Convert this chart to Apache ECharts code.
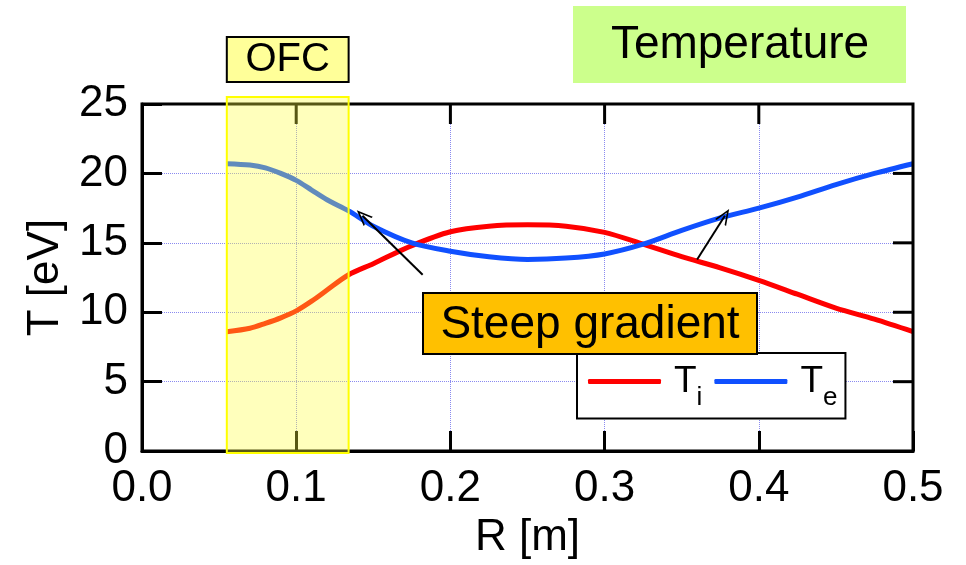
<!DOCTYPE html>
<html>
<head>
<meta charset="utf-8">
<script src="https://cdn.jsdelivr.net/npm/echarts@6/dist/echarts.min.js"></script>
<style>
  html, body { margin: 0; padding: 0; background: #fff; }
  #view { width: 966px; height: 565px; }
</style>
</head>
<body>
<div id="view"></div>
<script>
// radius [m]
const rList = [0.055, 0.07, 0.08, 0.09, 0.1, 0.11, 0.12, 0.134, 0.15, 0.175, 0.2, 0.225,
  0.25, 0.275, 0.3, 0.325, 0.35, 0.375, 0.4, 0.425, 0.45, 0.475, 0.5];
// ion temperature [eV]
const tiList = [8.6, 8.85, 9.2, 9.6, 10.1, 10.8, 11.6, 12.7, 13.5, 14.8, 15.8, 16.2,
  16.3, 16.2, 15.75, 14.9, 14.0, 13.2, 12.3, 11.3, 10.3, 9.5, 8.6];
// electron temperature [eV]
const teList = [20.7, 20.6, 20.4, 20.0, 19.5, 18.8, 18.1, 17.3, 16.2, 15.0, 14.4, 14.0,
  13.8, 13.9, 14.2, 14.9, 15.9, 16.8, 17.5, 18.3, 19.2, 20.0, 20.7];
const xTicks = [0, 0.1, 0.2, 0.3, 0.4, 0.5];
const yTicks = [0, 5, 10, 15, 20, 25];
const ofcRange = [0.055, 0.134];
// arrows: [from, to] in data coords
const arrowList = [
  [[0.182, 12.7], [0.143, 16.95]],
  [[0.360, 13.8], [0.378, 16.95]],
];

const font = "'Liberation Sans', Arial, sans-serif";
const chevron = "path://M0,12 L6,0 L12,12 L10.4,12 L6,3.2 L1.6,12 Z";

let myChart = echarts.init(document.getElementById("view"));

let tiS = { name: "Ti", type: "line", smooth: 0.3, symbol: "none", data: [],
  lineStyle: { color: "#ff0000", width: 5 }, itemStyle: { color: "#ff0000" }, z: 3 };
let teS = { name: "Te", type: "line", smooth: 0.3, symbol: "none", data: [],
  lineStyle: { color: "#1050ff", width: 5 }, itemStyle: { color: "#1050ff" }, z: 4,
  markLine: {
    silent: true,
    animation: false,
    symbol: ["none", chevron],
    symbolSize: [13, 16],
    label: { show: false },
    lineStyle: { color: "#000", width: 2, type: "solid" },
    data: arrowList.map((a) => [{ coord: a[0] }, { coord: a[1] }]),
  },
};
rList.forEach((r, i) => {
  tiS.data.push([r, tiList[i]]);
  teS.data.push([r, teList[i]]);
});

const axisLine = { show: true, onZero: false, lineStyle: { color: "#000", width: 3 } };
const axisTick = { show: true, inside: true, length: 20, lineStyle: { color: "#000", width: 3 } };
const gridLine = { show: true, lineStyle: { type: "dotted", color: "#8a8af0", width: 1 } };

let option = {
  animation: false,
  backgroundColor: "#fff",
  textStyle: { fontFamily: font },
  grid: { left: 142, right: 53, top: 104, bottom: 107 },
  legend: {
    left: 577,
    top: 353,
    orient: "horizontal",
    data: ["Ti", "Te"],
    icon: "roundRect",
    backgroundColor: "#fff",
    borderColor: "#000",
    borderWidth: 2,
    borderRadius: 0,
    padding: [10, 8, 8, 11],
    itemWidth: 73,
    itemHeight: 5,
    itemGap: 12,
    formatter: (name) => (name === "Ti" ? "{t|T}{s|i}" : "{t|T}{s|e}"),
    textStyle: {
      color: "#000",
      fontFamily: font,
      rich: {
        t: { fontSize: 37, lineHeight: 58, color: "#000", padding: [0, 0, 0, 8], verticalAlign: "middle" },
        s: { fontSize: 26, lineHeight: 22, color: "#000", verticalAlign: "bottom" },
      },
    },
  },
  xAxis: {
    type: "value", min: 0, max: 0.5, interval: 0.1,
    name: "R [m]", nameLocation: "middle", nameGap: 62,
    nameTextStyle: { fontSize: 44, color: "#000", fontFamily: font },
    axisLine, axisTick,
    axisLabel: { fontSize: 44, color: "#000", margin: 16, fontFamily: font,
      formatter: (v) => v.toFixed(1) },
    splitLine: gridLine,
  },
  yAxis: {
    type: "value", min: 0, max: 25, interval: 5,
    name: "T [eV]", nameLocation: "middle", nameGap: 74, nameRotate: 90,
    nameTextStyle: { fontSize: 44, color: "#000", fontFamily: font },
    axisLine, axisTick,
    axisLabel: { fontSize: 44, color: "#000", margin: 14, fontFamily: font },
    splitLine: gridLine,
  },
  series: [tiS, teS],
};
myChart.setOption(option);

// frame, mirrored ticks and annotation boxes
const px = (v) => myChart.convertToPixel({ xAxisIndex: 0 }, v);
const py = (v) => myChart.convertToPixel({ yAxisIndex: 0 }, v);
let gL = px(xTicks[0]), gR = px(xTicks[xTicks.length - 1]);
let gT = py(yTicks[yTicks.length - 1]), gB = py(yTicks[0]);
let x0 = px(ofcRange[0]), x1 = px(ofcRange[1]);
const tickLen = 20;
const black = { stroke: "#000", lineWidth: 3 };

let graphics = [
  {
    type: "rect", z: 95,
    shape: { x: gL, y: gT, width: gR - gL, height: gB - gT },
    style: { fill: null, stroke: "#000", lineWidth: 3 },
  },
];
xTicks.slice(1, -1).forEach((t) => {
  graphics.push({ type: "line", z: 95, shape: { x1: px(t), y1: gT, x2: px(t), y2: gT + tickLen }, style: black });
});
yTicks.slice(1, -1).forEach((t) => {
  graphics.push({ type: "line", z: 95, shape: { x1: gR, y1: py(t), x2: gR - tickLen, y2: py(t) }, style: black });
});
graphics.push(
  {
    type: "rect", z: 100,
    shape: { x: x0, y: gT - 7, width: x1 - x0, height: gB - gT + 9 },
    style: { fill: "rgba(255,255,60,0.34)", stroke: "#ffff00", lineWidth: 2 },
  },
  {
    type: "rect", z: 100,
    shape: { x: x0, y: 37, width: x1 - x0, height: 45 },
    style: { fill: "#ffff99", stroke: "#000", lineWidth: 2 },
  },
  {
    type: "text", z: 101, x: (x0 + x1) / 2, y: 60,
    style: { text: "OFC", font: "40px " + font, fill: "#000", align: "center", verticalAlign: "middle" },
  },
  {
    type: "rect", z: 90,
    shape: { x: 573, y: 6, width: 333, height: 77 },
    style: { fill: "#ccff8c" },
  },
  {
    type: "text", z: 91, x: 740, y: 45,
    style: { text: "Temperature", font: "46px " + font, fill: "#000", align: "center", verticalAlign: "middle" },
  },
  {
    type: "rect", z: 90,
    shape: { x: 423, y: 293, width: 334, height: 61 },
    style: { fill: "#ffc000", stroke: "#000", lineWidth: 2 },
  },
  {
    type: "text", z: 91, x: 590, y: 325,
    style: { text: "Steep gradient", font: "46px " + font, fill: "#000", align: "center", verticalAlign: "middle" },
  }
);

myChart.setOption({ graphic: graphics });
</script>
</body>
</html>
